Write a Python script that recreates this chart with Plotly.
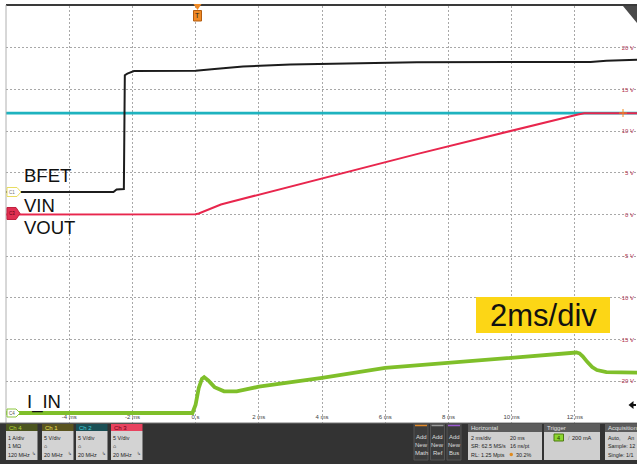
import plotly.graph_objects as go

# ---------------- acquired waveforms (time in ms) ----------------
bfet_t = [-6.0, -2.6, -2.5, -2.27, -2.24, -2.16, -1.95, 0.0, 0.6, 1.5, 3.0, 5.0, 7.0, 12.5, 13.0, 13.97]
bfet_v = [0.0, 0.0, 0.3, 0.35, 14.0, 14.2, 14.5, 14.55, 14.75, 15.05, 15.3, 15.45, 15.55, 15.6, 15.75, 15.85]

vin_t = [-6.0, 13.97]
vin_v = [12.15, 12.15]

vout_t = [-6.0, -0.15, 0.0, 0.1, 0.2, 0.3, 0.45, 0.6, 0.8, 1.1, 3.0, 7.06, 12.1, 12.2, 12.3, 13.97]
vout_v = [0.0, 0.0, 0.03, 0.12, 0.28, 0.47, 0.72, 0.95, 1.2, 1.5, 3.35, 7.3, 12.0, 12.1, 12.15, 12.15]

iin_t = [-6.0, -0.1, 0.0, 0.1, 0.2, 0.27, 0.4, 0.6, 0.9, 1.3, 2.0, 4.0, 6.0, 8.0, 10.0,
         11.9, 12.05, 12.15, 12.25, 12.4, 12.55, 12.7, 12.85, 13.0, 13.97]
iin_a = [0.0, 0.0, 0.2, 0.6, 0.82, 0.86, 0.78, 0.62, 0.52, 0.52, 0.63, 0.84, 1.08, 1.2, 1.33,
         1.43, 1.45, 1.43, 1.36, 1.22, 1.1, 1.03, 1.0, 0.98, 0.97]

# graticule labels
time_ticks = [-4, -2, 0, 2, 4, 6, 8, 10, 12]
time_labels = ["-4 ms", "-2 ms", "0 s", "2 ms", "4 ms", "6 ms", "8 ms", "10 ms", "12 ms"]
div_ticks = [4, 3, 2, 1, 0, -1, -2, -3, -4]
volt_labels = ["20 V", "15 V", "10 V", "5 V", "0 V", "-5 V", "-10 V", "-15 V", "-20 V"]

# channel vertical settings: units per division and position (divisions)
CH1 = dict(scale=5.0, pos=0.54)    # BFET
CH2 = dict(scale=5.0, pos=0.0)     # VIN
CH3 = dict(scale=5.0, pos=0.0)     # VOUT
CH4 = dict(scale=1.0, pos=-4.76)   # I_IN


def to_div(values, ch):
    return [v / ch["scale"] + ch["pos"] for v in values]


# ---------------- page geometry (pixels) ----------------
FW, FH = 637, 464
L, T, W, H = 6, 6, 631, 417


def px(X):
    return (X - L) / W


def py(Y):
    return (T + H - Y) / H


fig = go.Figure()
fig.add_trace(go.Scatter(x=vin_t, y=to_div(vin_v, CH2), mode="lines",
                         line=dict(color="#1fb3bf", width=2.6), hoverinfo="skip"))
fig.add_trace(go.Scatter(x=bfet_t, y=to_div(bfet_v, CH1), mode="lines",
                         line=dict(color="#1c1c1c", width=2.0), hoverinfo="skip"))
fig.add_trace(go.Scatter(x=vout_t, y=to_div(vout_v, CH3), mode="lines",
                         line=dict(color="#e8264d", width=2.0), hoverinfo="skip"))
fig.add_trace(go.Scatter(x=iin_t, y=to_div(iin_a, CH4), mode="lines",
                         line=dict(color="#7fbf2a", width=3.8), hoverinfo="skip"))

shapes = []
annotations = []


def rect(x0, y0, x1, y1, fill, line=None, lw=0):
    shapes.append(dict(type="rect", xref="paper", yref="paper",
                       x0=px(x0), x1=px(x1), y0=py(y1), y1=py(y0),
                       fillcolor=fill, line=dict(color=line or fill, width=lw),
                       layer="above"))


def seg(x0, y0, x1, y1, color, w=1):
    shapes.append(dict(type="line", xref="paper", yref="paper",
                       x0=px(x0), x1=px(x1), y0=py(y0), y1=py(y1),
                       line=dict(color=color, width=w), layer="above"))


def poly(pts, fill, line=None, lw=0):
    d = "M " + " L ".join(f"{px(a):.5f},{py(b):.5f}" for a, b in pts) + " Z"
    shapes.append(dict(type="path", xref="paper", yref="paper", path=d,
                       fillcolor=fill, line=dict(color=line or fill, width=lw),
                       layer="above"))


def text(x, y, s, size=6.5, color="#222", xanchor="left", family="Liberation Sans"):
    annotations.append(dict(x=px(x), y=py(y), xref="paper", yref="paper", text=s,
                            showarrow=False, xanchor=xanchor, yanchor="middle",
                            font=dict(size=size, color=color, family=family),
                            borderpad=0))


# graticule frame
seg(6, 5, 637, 5, "#3a3a3a", 2)
seg(6, 5, 6, 423, "#b0b0b0", 1)
poly([(623, 6), (637, 6), (637, 23)], "#4a4a4a")

# trigger position marker
poly([(193.5, 4), (201.5, 4), (197.5, 10)], "#f08a24")
rect(193.5, 10.5, 201.5, 21, "#f08a24", "#b35d10", 1)
text(197.5, 15.7, "T", size=7, color="#222", xanchor="center")

# trigger level marker at right
seg(619, 113, 627, 113, "#f08a24", 1)
seg(623, 109, 623, 117, "#f08a24", 1)

# record-overflow arrow at right
poly([(628.5, 405), (633.5, 401), (633.5, 409)], "#111")
seg(633, 405, 636, 405, "#111", 2)

# channel ground markers on the left edge
poly([(7, 187.5), (17, 187.5), (21, 192), (17, 196.5), (7, 196.5)], "#ffffff", "#e8dc60", 1)
text(12, 192, "C1", size=4.5, color="#777", xanchor="center")
poly([(7, 207.5), (16, 207.5), (20, 213.5), (16, 219.5), (7, 219.5)], "#e03052", "#c0203f", 1)
text(12, 213.5, "C3", size=4.5, color="#5a0010", xanchor="center")
poly([(7, 409), (16, 409), (20, 413), (16, 417), (7, 417)], "#ffffff", "#8cc63f", 1)
text(12, 413, "C4", size=4.5, color="#555", xanchor="center")

# signal names
for name, x, y in [("BFET", 23, 175.5), ("VIN", 23, 205), ("VOUT", 23, 227.5), ("I_IN", 26, 401.5)]:
    text(x, y, name, size=18.5, color="#111", family="Liberation Sans, Arial")

# timebase tag
rect(476, 297, 610, 333, "#fcd616")
text(543, 315.5, "2ms/div", size=31, color="#111", xanchor="center",
     family="Liberation Sans, Arial")

# ---------------- status bar ----------------
rect(0, 423, 637, 464, "#333333")
seg(0, 423, 637, 423, "#777777", 1)

badges = [
    (6, "Ch 4", "#4c5520", "#b8d83a", ["1 A/div", "1 MΩ", "120 MHz"]),
    (42, "Ch 1", "#5a5420", "#eee25a", ["5 V/div", "⌂", "20 MHz"]),
    (76, "Ch 2", "#1b4f55", "#45d0d8", ["5 V/div", "⌂", "20 MHz"]),
    (111, "Ch 3", "#e8435f", "#6a0016", ["5 V/div", "⌂", "20 MHz"]),
]
for x0, head, hbg, hfg, rows in badges:
    rect(x0, 424, x0 + 31.5, 431, hbg)
    rect(x0, 431, x0 + 31.5, 460, "#d3d3d3")
    text(x0 + 2, 427.5, head, size=6, color=hfg)
    for r, yy in zip(rows, [437.5, 446, 454.5]):
        text(x0 + 1.2, yy, r, size=5.4, color="#222")
    text(x0 + 31.3, 453.5, "↳", size=4.5, color="#222", xanchor="right", family="DejaVu Sans")

for x0, stripe, lines in [(414, "#e0892a", ["Add", "New", "Math"]),
                          (430.5, "#9a9a9a", ["Add", "New", "Ref"]),
                          (447, "#9a5ad0", ["Add", "New", "Bus"])]:
    rect(x0, 424, x0 + 14, 460, "#3c3c3c", "#555555", 1)
    seg(x0 + 1, 425.5, x0 + 13, 425.5, stripe, 1.5)
    for s, yy in zip(lines, [437, 445, 453]):
        text(x0 + 7, yy, s, size=6, color="#dddddd", xanchor="center")

# horizontal settings panel
rect(468, 424, 542, 432, "#5c5c5c")
rect(468, 432, 542, 460, "#cfcfcf")
text(470, 428, "Horizontal", size=6, color="#e0e0e0")
text(470.5, 437.5, "2 ms/div", size=5.4)
text(508.5, 437.5, "20 ms", size=5.4)
text(470.5, 446, "SR: 62.5 MS/s", size=5.4)
text(508.5, 446, "16 ns/pt", size=5.4)
text(470.5, 454.5, "RL: 1.25 Mpts", size=5.4)
shapes.append(dict(type="circle", xref="paper", yref="paper",
                   x0=px(509.5), x1=px(513), y0=py(456.3), y1=py(452.7),
                   fillcolor="#e08a1e", line=dict(width=0), layer="above"))
text(514.5, 454.5, "30.2%", size=5.4)

# trigger panel
rect(544, 424, 600, 432, "#5c5c5c")
rect(544, 432, 600, 460, "#cfcfcf")
text(546, 428, "Trigger", size=6, color="#e0e0e0")
rect(554, 434, 563.5, 441, "#8cd630", "#4c7a10", 1)
text(558.7, 437.5, "4", size=5.5, color="#1a3300", xanchor="center")
text(567, 437.5, "/", size=6, color="#888")
text(571, 437.5, "200 mA", size=5.6)

# acquisition panel
rect(605, 424, 640, 432, "#5c5c5c")
rect(605, 432, 640, 460, "#cfcfcf")
text(607, 428, "Acquisition", size=6, color="#e0e0e0")
text(607, 437.5, "Auto,     An", size=5.4)
text(607, 446, "Sample: 12", size=5.4)
text(607, 454.5, "Single: 1/1", size=5.4)

fig.update_layout(
    width=FW, height=FH,
    margin=dict(l=L, r=FW - L - W, t=T, b=FH - T - H, pad=0),
    paper_bgcolor="white", plot_bgcolor="white",
    showlegend=False,
    shapes=shapes, annotations=annotations,
    xaxis=dict(range=[-6, -6 + W / 31.6], tickvals=time_ticks, ticktext=time_labels,
               showgrid=True, gridcolor="#a8a8a8", griddash="2px,2px", gridwidth=1,
               zeroline=False, showline=False, ticks="", ticklabelposition="inside",
               tickfont=dict(size=6, color="#444", family="Liberation Sans"),
               fixedrange=True),
    yaxis=dict(range=[-5, 5], tickvals=div_ticks, ticktext=volt_labels, side="right",
               showgrid=True, gridcolor="#a8a8a8", griddash="2px,2px", gridwidth=1,
               zeroline=False, showline=False, ticks="", ticklabelposition="inside",
               tickfont=dict(size=6, color="#b3324f", family="Liberation Sans"),
               fixedrange=True),
)

fig.write_html("out.html", config={"displayModeBar": False})
